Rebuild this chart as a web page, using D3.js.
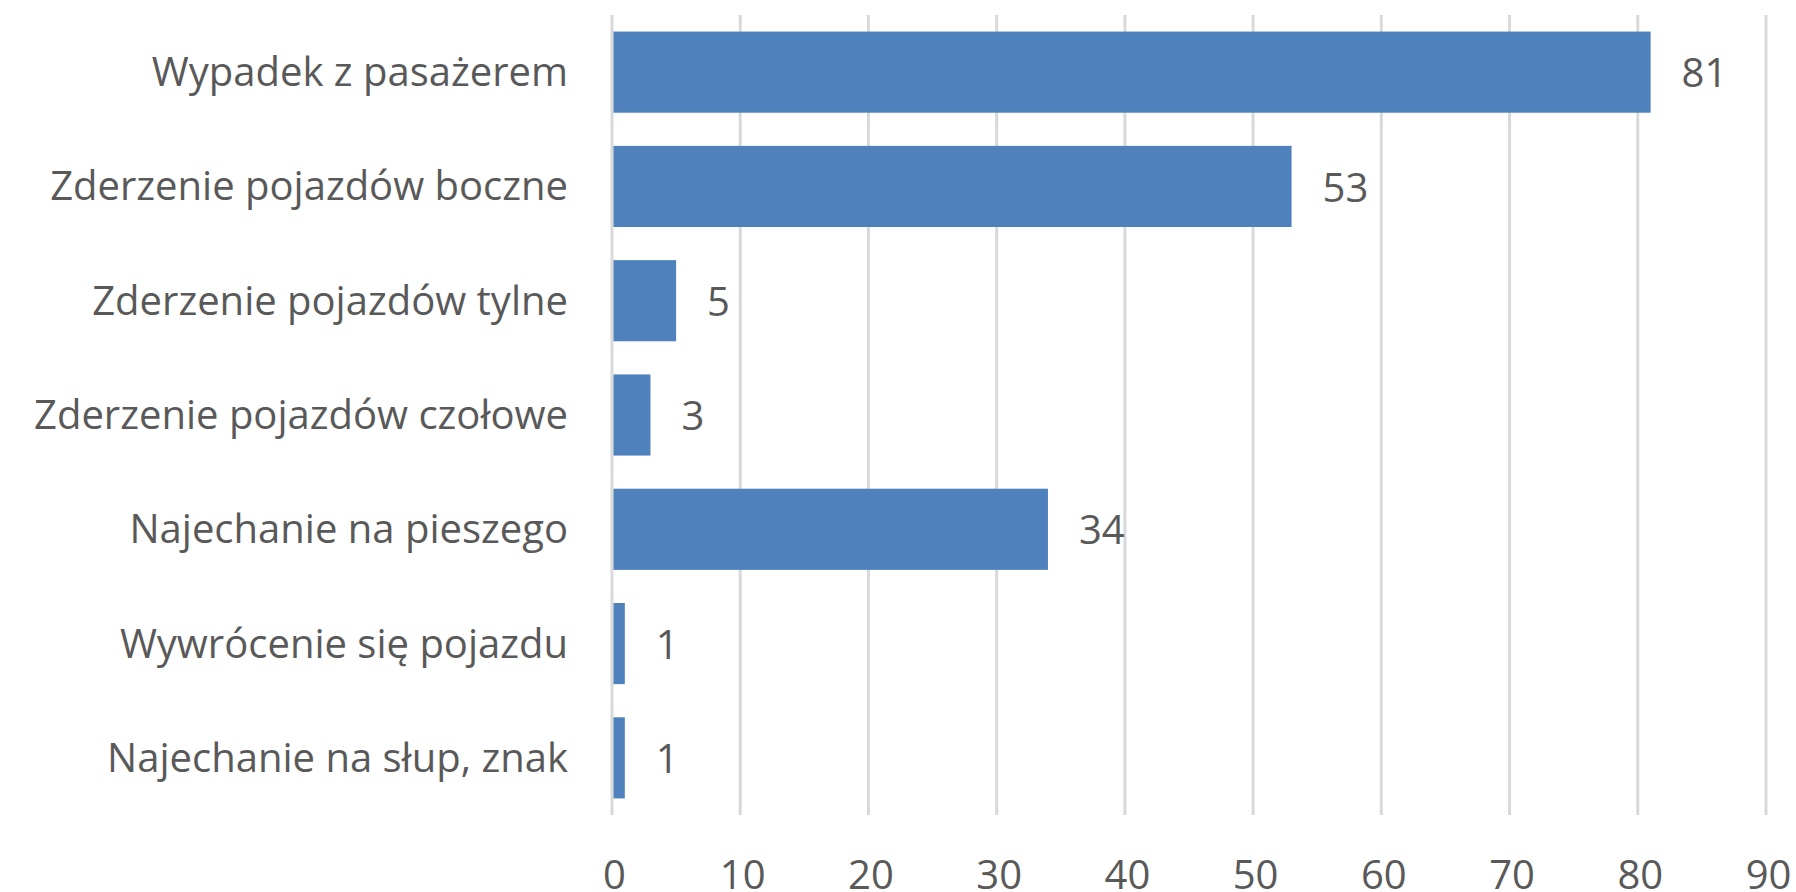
<!DOCTYPE html>
<html>
<head>
<meta charset="utf-8">
<script src="https://cdn.jsdelivr.net/npm/d3@7"></script>
<style>
  html, body { margin: 0; padding: 0; background: #fff; }
  svg { display: block; }
  text { font-family: "Open Sans", "Noto Sans", sans-serif; fill: #595959; }
</style>
</head>
<body>
<svg id="chart" width="1796" height="892"></svg>
<script>
const categories = [
  "Wypadek z pasażerem",
  "Zderzenie pojazdów boczne",
  "Zderzenie pojazdów tylne",
  "Zderzenie pojazdów czołowe",
  "Najechanie na pieszego",
  "Wywrócenie się pojazdu",
  "Najechanie na słup, znak"
];
const values = [81, 53, 5, 3, 34, 1, 1];
const xTicks = [0, 10, 20, 30, 40, 50, 60, 70, 80, 90];

(function () {
const svg = d3.select("#chart");
const mLeft = 612, mRight = 1766, mTop = 15, mBottom = 815;

const x = d3.scaleLinear().domain([0, 90]).range([mLeft, mRight]);
const y = d3.scaleBand().domain(categories).range([mTop, mBottom]).paddingInner(0.29).paddingOuter(0.145);

// gridlines
svg.append("g").selectAll("line").data(xTicks).join("line")
  .attr("x1", d => x(d)).attr("x2", d => x(d))
  .attr("y1", mTop).attr("y2", mBottom)
  .attr("stroke", "#d9d9d9").attr("stroke-width", 3);

// bars
svg.append("g").selectAll("rect").data(values).join("rect")
  .attr("x", x(0) + 1.5)
  .attr("y", (d, i) => y(categories[i]))
  .attr("width", d => x(d) - x(0) - 1.5)
  .attr("height", y.bandwidth())
  .attr("fill", "#4f81bd");

// value labels
svg.append("g").selectAll("text").data(values).join("text")
  .attr("x", d => x(d) + 31)
  .attr("y", (d, i) => y(categories[i]) + y.bandwidth() / 2)
  .attr("dy", "0.38em")
  .attr("font-size", 40)
  .text(d => d);

// category axis labels
svg.append("g").selectAll("text").data(categories).join("text")
  .attr("x", mLeft - 44)
  .attr("y", d => y(d) + y.bandwidth() / 2)
  .attr("dy", "0.35em")
  .attr("text-anchor", "end")
  .attr("font-size", 40)
  .text(d => d);

// x axis tick labels
const xAxis = d3.axisBottom(x).tickValues(xTicks).tickSize(0).tickPadding(0).tickFormat(d3.format("d"));
const ax = svg.append("g").attr("transform", `translate(2, ${mBottom})`).call(xAxis);
ax.select(".domain").remove();
ax.selectAll("text")
  .attr("y", 74).attr("dy", 0)
  .attr("font-size", 40)
  .style("font-family", '"Open Sans", "Noto Sans", sans-serif')
  .attr("fill", "#595959");
})();
</script>
</body>
</html>
